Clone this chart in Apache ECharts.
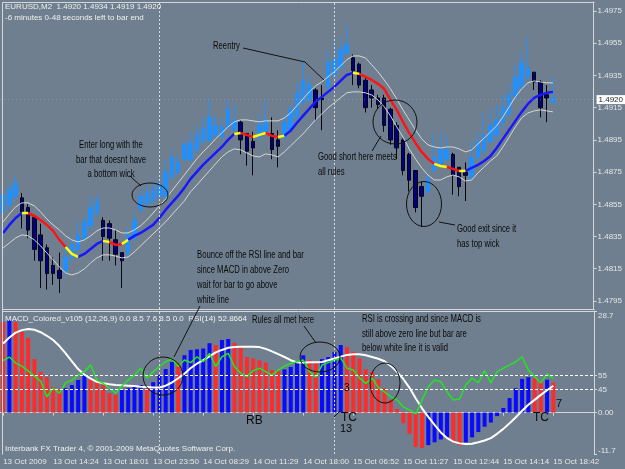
<!DOCTYPE html>
<html><head><meta charset="utf-8">
<script src="https://cdn.jsdelivr.net/npm/echarts@6/dist/echarts.min.js"></script>
<style>html,body{margin:0;padding:0;background:#6f7f8f}#c{width:625px;height:469px}</style>
</head><body><div id="c"></div>
<script>
// ---------- data ----------
const timeLabels = ['13 Oct 2009','13 Oct 14:24','13 Oct 18:01','13 Oct 23:50','14 Oct 08:29','14 Oct 11:29','14 Oct 18:00','15 Oct 06:52','15 Oct 11:27','15 Oct 12:44','15 Oct 14:14','15 Oct 18:42'];
const priceTicks = [1.4795,1.4815,1.4835,1.4855,1.4875,1.4895,1.4915,1.4935,1.4955,1.4975];
const macdTicks = [-11.7, 0, 28.7];
const rsiTicks = [45, 55];
const separators = ['25','53'];
const lastPrice = 1.4920;

const opens = [1.4850,1.4855,1.4860,1.4859,1.4853,1.4847,1.4836,1.4828,1.4817,1.4814,
1.4814,1.4822,1.4827,1.4834,1.4842,1.4850,1.4845,1.4843,1.4833,1.4825,
1.4825,1.4834,1.4852,1.4855,1.4857,1.4860,1.4860,1.4872,1.4875,1.4883,
1.4883,1.4889,1.4894,1.4895,1.4898,1.4897,1.4903,1.4901,1.4906,1.4899,
1.4894,1.4897,1.4900,1.4899,1.4895,1.4897,1.4901,1.4909,1.4918,1.4920,
1.4926,1.4921,1.4928,1.4935,1.4940,1.4949,1.4946,1.4942,1.4932,1.4926,
1.4921,1.4921,1.4914,1.4904,1.4895,1.4886,1.4876,1.4866,1.4863,1.4876,
1.4880,1.4883,1.4886,1.4878,1.4875,1.4872,1.4884,1.4888,1.4894,1.4898,
1.4906,1.4911,1.4922,1.4928,1.4934,1.4937,1.4931,1.4923,1.4918];
const closes = [1.4861,1.4864,1.4868,1.4850,1.4839,1.4827,1.4820,1.4812,1.4812,1.4809,
1.4822,1.4830,1.4836,1.4844,1.4853,1.4857,1.4835,1.4834,1.4824,1.4820,
1.4836,1.4845,1.4860,1.4862,1.4864,1.4867,1.4875,1.4884,1.4881,1.4892,
1.4893,1.4898,1.4902,1.4909,1.4904,1.4903,1.4914,1.4907,1.4895,1.4888,
1.4890,1.4904,1.4907,1.4889,1.4891,1.4906,1.4914,1.4924,1.4932,1.4929,
1.4915,1.4920,1.4943,1.4945,1.4951,1.4954,1.4938,1.4929,1.4915,1.4921,
1.4917,1.4904,1.4895,1.4890,1.4876,1.4870,1.4853,1.4860,1.4871,1.4884,
1.4889,1.4889,1.4873,1.4866,1.4873,1.4884,1.4894,1.4898,1.4904,1.4907,
1.4915,1.4923,1.4934,1.4943,1.4940,1.4931,1.4915,1.4921,1.4921];
const lows = [1.4848,1.4852,1.4858,1.4840,1.4834,1.4820,1.4803,1.4802,1.4805,1.4800,
1.4811,1.4819,1.4824,1.4832,1.4839,1.4847,1.4820,1.4820,1.4817,1.4803,
1.4822,1.4832,1.4850,1.4853,1.4855,1.4858,1.4858,1.4870,1.4873,1.4881,
1.4881,1.4887,1.4892,1.4893,1.4896,1.4895,1.4901,1.4901,1.4886,1.4879,
1.4873,1.4895,1.4899,1.4883,1.4878,1.4895,1.4900,1.4907,1.4916,1.4918,
1.4907,1.4901,1.4926,1.4934,1.4938,1.4947,1.4929,1.4927,1.4912,1.4915,
1.4914,1.4900,1.4892,1.4883,1.4873,1.4863,1.4850,1.4841,1.4861,1.4875,
1.4878,1.4881,1.4861,1.4860,1.4857,1.4870,1.4883,1.4886,1.4892,1.4896,
1.4902,1.4909,1.4920,1.4926,1.4932,1.4926,1.4909,1.4906,1.4917];
const highs = [1.4865,1.4868,1.4873,1.4862,1.4855,1.4848,1.4843,1.4830,1.4822,1.4825,
1.4830,1.4834,1.4844,1.4848,1.4860,1.4861,1.4847,1.4845,1.4839,1.4825,
1.4840,1.4850,1.4864,1.4867,1.4870,1.4871,1.4883,1.4889,1.4886,1.4896,
1.4900,1.4904,1.4909,1.4920,1.4911,1.4909,1.4920,1.4917,1.4907,1.4899,
1.4900,1.4911,1.4920,1.4909,1.4901,1.4911,1.4917,1.4930,1.4943,1.4935,
1.4927,1.4929,1.4951,1.4957,1.4958,1.4966,1.4948,1.4943,1.4934,1.4929,
1.4923,1.4923,1.4915,1.4906,1.4896,1.4887,1.4876,1.4869,1.4873,1.4898,
1.4900,1.4897,1.4887,1.4878,1.4881,1.4894,1.4900,1.4912,1.4915,1.4917,
1.4923,1.4929,1.4942,1.4950,1.4959,1.4937,1.4932,1.4929,1.4934];

const trendCenter = [1.48372,1.48422,1.48465,1.48496,1.48496,1.48478,1.48453,1.48422,1.48385,1.48329,
1.48285,1.48242,1.48223,1.48242,1.48273,1.48304,1.48323,1.48316,1.48298,1.48304,
1.48329,1.48354,1.48372,1.48397,1.48422,1.48465,1.48515,1.48559,1.48602,1.48652,
1.48708,1.48751,1.48795,1.48832,1.48869,1.48906,1.48950,1.48987,1.48993,1.48981,
1.48968,1.48981,1.48993,1.48975,1.48968,1.48975,1.49006,1.49055,1.49099,1.49142,
1.49186,1.49217,1.49248,1.49279,1.49316,1.49353,1.49366,1.49360,1.49341,1.49322,
1.49298,1.49267,1.49198,1.49136,1.49062,1.48993,1.48931,1.48875,1.48832,1.48801,
1.48788,1.48782,1.48770,1.48757,1.48757,1.48776,1.48795,1.48819,1.48850,1.48900,
1.48956,1.49012,1.49068,1.49124,1.49173,1.49211,1.49229,1.49242,1.49248];
const trendColor = ('BBBB'+'Y'+'RRRRRR'+'YY'+'BBBB'+'Y'+'RR'+'Y'+'BBBBBBBBBBBBBBBBB'+'Y'+'RR'+'YY'+'RR'+'Y'+
  'BBBBBBBBBBB'+'Y'+'RRRRRRRRRRRR'+'YY'+'RR'+'Y'+'BBBBBBBBBBBBBB').split('');
const upperBand = [1.48441,1.48490,1.48534,1.48559,1.48559,1.48540,1.48503,1.48459,1.48422,1.48391,
1.48354,1.48329,1.48316,1.48329,1.48354,1.48385,1.48403,1.48403,1.48391,1.48372,
1.48372,1.48391,1.48416,1.48453,1.48496,1.48540,1.48583,1.48633,1.48683,1.48732,
1.48782,1.48832,1.48875,1.48913,1.48956,1.48993,1.49031,1.49062,1.49074,1.49074,
1.49068,1.49062,1.49068,1.49068,1.49068,1.49086,1.49117,1.49161,1.49204,1.49248,
1.49285,1.49310,1.49341,1.49372,1.49409,1.49447,1.49471,1.49471,1.49459,1.49416,
1.49372,1.49322,1.49267,1.49204,1.49136,1.49074,1.49012,1.48956,1.48919,1.48906,
1.48900,1.48906,1.48906,1.48894,1.48875,1.48888,1.48925,1.48962,1.48999,1.49037,
1.49093,1.49155,1.49217,1.49267,1.49304,1.49316,1.49310,1.49304,1.49304];
const lowerBand = [1.48279,1.48310,1.48341,1.48360,1.48354,1.48329,1.48292,1.48248,1.48205,1.48161,
1.48124,1.48111,1.48124,1.48149,1.48186,1.48217,1.48236,1.48236,1.48229,1.48217,
1.48223,1.48254,1.48292,1.48329,1.48366,1.48403,1.48441,1.48484,1.48528,1.48571,
1.48627,1.48670,1.48714,1.48757,1.48801,1.48844,1.48875,1.48894,1.48888,1.48869,
1.48850,1.48844,1.48863,1.48857,1.48844,1.48875,1.48913,1.48950,1.48987,1.49031,
1.49074,1.49111,1.49149,1.49180,1.49211,1.49242,1.49248,1.49248,1.49242,1.49229,
1.49198,1.49155,1.49099,1.49031,1.48968,1.48894,1.48832,1.48776,1.48732,1.48701,
1.48701,1.48720,1.48732,1.48720,1.48695,1.48701,1.48745,1.48782,1.48819,1.48850,
1.48906,1.48968,1.49031,1.49086,1.49117,1.49130,1.49136,1.49130,1.49124];

const macdHist = [25.6,26.1,25.6,22.8,21.1,15.1,11.5,10.0,7.2,6.6,
6.9,7.8,9.2,10.9,9.7,9.2,7.8,5.5,5.0,6.4,
6.9,7.3,7.8,7.0,8.6,10.6,12.3,14.3,14.0,16.2,
17.7,17.9,18.1,19.6,19.1,20.5,20.8,19.7,18.5,15.7,
15.3,14.8,14.1,12.0,11.8,12.2,12.9,14.4,16.2,14.8,
14.3,15.1,15.7,17.1,19.1,18.5,17.1,15.3,12.2,11.5,
9.4,6.9,3.6,1.0,-3.0,-6.0,-9.7,-10.0,-9.2,-8.4,
-7.6,-7.0,-8.4,-9.2,-8.4,-7.0,-5.5,-4.0,-2.8,-1.0,
1.3,4.1,6.9,9.5,10.0,9.7,9.0,9.3,8.5];
const macdColor = ('RBRRRRRRRR'+'BBBBRRRRRB'+'BBBRBBBBRB'+'BBBBRBBRRR'+'RRRRRBBBBR'+
  'RBBBBRRRRR'+'RRRRRRRRBB'+'BBRRBBBBBB'+'BBBBBRRBR').split('');
const macdSignal = [19.5,21.2,22.6,23.3,23.6,23.4,22.7,21.7,20.5,18.8,
16.7,14.5,12.3,10.7,9.6,8.7,8.3,8.0,7.8,7.7,
7.6,7.5,7.3,7.2,7.1,7.1,7.6,8.5,9.7,11.0,
12.6,13.8,14.8,15.9,17.0,17.7,18.3,18.5,18.6,18.6,
18.6,18.5,18.0,17.3,16.5,15.7,14.8,14.2,14.1,14.2,
14.2,14.3,14.8,15.3,15.8,16.3,16.5,16.5,16.2,15.7,
15.2,14.5,13.2,11.5,9.5,7.0,4.0,1.2,-1.2,-3.5,
-5.6,-7.2,-8.2,-8.7,-8.9,-8.8,-8.4,-7.9,-7.2,-6.0,
-4.6,-3.0,-1.3,0.5,2.2,3.6,5.0,6.3,7.6];
const rsi = [65.3,67.8,63.6,61.5,58.1,54.5,51.0,40.0,46.0,42.6,
49.7,51.7,55.2,57.6,62.2,51.7,49.4,46.0,42.6,47.6,
51.7,55.2,60.0,53.1,57.6,61.2,64.5,66.4,61.2,65.7,
63.9,68.0,64.5,70.4,61.2,68.0,70.4,61.2,56.4,54.1,
58.3,60.0,57.6,55.2,58.7,61.5,63.3,64.5,65.7,57.6,
53.8,62.2,63.9,65.7,67.0,60.0,58.7,53.1,49.4,53.1,
46.6,43.5,40.0,37.8,33.0,30.8,28.0,37.8,47.0,51.7,
50.5,43.5,37.8,38.5,48.3,53.1,49.7,58.3,49.7,57.6,
60.0,62.2,64.5,68.0,58.7,54.1,49.7,56.0,52.8664];

// ---------- build ----------
const NCAT = 95;
const categories = Array.from({length: NCAT}, (_, i) => String(i));
const candleData = opens.map((o, i) => [o, closes[i], lows[i], highs[i]]);
function seg(c) {
  return trendCenter.map((v, j) => (trendColor[j] === c || trendColor[j + 1] === c) ? v : null);
}
const COLORS = {B: '#1818ff', R: '#ff1414', Y: '#ffff00'};
const macdData = macdHist.map((v, i) => ({value: v, itemStyle: {color: macdColor[i] === 'R' ? '#ff2b2b' : '#0a0aff'}}));

const AX = '#e6e6e6';
const FR = '#d4d8dc';
const FONT = 'Liberation Sans';

function note(text, x, y, align, size, sx) {
  return {type: 'text', x: x, y: y, z: 100, scaleX: sx || 0.7,
    style: {text: text, fill: '#0a0a0a', font: (size || 11) + 'px "' + FONT + '"', align: align || 'left', verticalAlign: 'middle'}};
}
function info(text, x, y) {
  return {type: 'text', x: x, y: y, z: 100,
    style: {text: text, fill: '#f0f0f0', font: '8px "' + FONT + '"', align: 'left', verticalAlign: 'middle'}};
}
function ring(cx, cy, rx, ry) {
  return {type: 'ellipse', z: 100, shape: {cx, cy, rx, ry}, style: {stroke: '#111', fill: 'none', lineWidth: 1}};
}
function pl(points) {
  return {type: 'polyline', z: 100, shape: {points}, style: {stroke: '#111', fill: 'none', lineWidth: 1}};
}
function fl(x1, y1, x2, y2) {
  return {type: 'line', z: 50, shape: {x1, y1, x2, y2}, style: {stroke: FR, lineWidth: 1}};
}

const option = {
  animation: false,
  backgroundColor: '#6f7f8f',
  textStyle: {fontFamily: FONT},
  grid: [
    {left: 0, right: 31, top: 2, height: 307},
    {left: 0, right: 31, top: 311, height: 143}
  ],
  xAxis: [
    {type: 'category', gridIndex: 0, data: categories, boundaryGap: true, show: false},
    {type: 'category', gridIndex: 1, data: categories, boundaryGap: true,
      axisLine: {show: true, lineStyle: {color: FR}},
      axisTick: {show: true, interval: 7, alignWithLabel: true, length: 3, lineStyle: {color: FR}},
      axisLabel: {interval: 7, align: 'left', color: AX, fontSize: 8, margin: 4,
        formatter: (v, i) => timeLabels[Math.round(i / 8)] || ''},
      splitLine: {show: false}}
  ],
  yAxis: [
    {type: 'value', gridIndex: 0, position: 'right', min: 1.47900, max: 1.49806, scale: true,
      axisLine: {show: true, lineStyle: {color: FR}},
      axisTick: {show: true, length: 3, customValues: priceTicks, lineStyle: {color: FR}},
      axisLabel: {color: AX, fontSize: 8, margin: 4, customValues: priceTicks, formatter: v => v.toFixed(4)},
      splitLine: {show: false}},
    {type: 'value', gridIndex: 1, position: 'right', min: -11.7, max: 28.7,
      axisLine: {show: true, lineStyle: {color: FR}},
      axisTick: {show: true, length: 3, customValues: macdTicks, lineStyle: {color: FR}},
      axisLabel: {color: AX, fontSize: 8, margin: 4, customValues: macdTicks,
        formatter: v => Math.abs(v - 28.7) < 1e-6 ? '{t|28.7}' : (Math.abs(v + 11.7) < 1e-6 ? '{b|-11.7}' : '0.00'),
        rich: {t: {padding: [9, 0, 0, 0], fontSize: 8, color: AX}, b: {padding: [0, 0, 7, 0], fontSize: 8, color: AX}}},
      splitLine: {show: false}},
    {type: 'value', gridIndex: 1, position: 'right', min: 0, max: 100,
      axisLine: {show: false},
      axisTick: {show: true, length: 3, customValues: rsiTicks, lineStyle: {color: FR}},
      axisLabel: {color: AX, fontSize: 8, margin: 4, customValues: rsiTicks, formatter: v => String(v)},
      splitLine: {show: false}}
  ],
  series: [
    {type: 'candlestick', xAxisIndex: 0, yAxisIndex: 0, data: candleData, barWidth: 4,
      itemStyle: {color: '#1e90ff', color0: '#000080', borderColor: '#1e90ff', borderColor0: '#050510', borderWidth: 1},
      markLine: {silent: true, symbol: ['none', 'none'], label: {show: false},
        lineStyle: {color: '#d8d8d8', type: [2, 2], width: 1},
        data: separators.map(s => ({xAxis: s}))}},
    {type: 'line', xAxisIndex: 0, yAxisIndex: 0, data: upperBand, showSymbol: false, lineStyle: {color: '#d6d6d6', width: 1},
      markLine: {silent: true, symbol: ['none', 'none'], precision: 4,
        lineStyle: {color: 'rgba(200,200,200,0.35)', type: [1, 3], width: 1},
        label: {show: true, position: 'end', distance: 3, formatter: lastPrice.toFixed(4), color: '#222',
          backgroundColor: '#ffffff', padding: [1, 2, 0, 2], fontSize: 8},
        data: [{yAxis: lastPrice}]}},
    {type: 'line', xAxisIndex: 0, yAxisIndex: 0, data: lowerBand, showSymbol: false, lineStyle: {color: '#d6d6d6', width: 1}},
    {type: 'line', xAxisIndex: 0, yAxisIndex: 0, data: seg('B'), showSymbol: false, lineStyle: {color: COLORS.B, width: 2.5}},
    {type: 'line', xAxisIndex: 0, yAxisIndex: 0, data: seg('R'), showSymbol: false, lineStyle: {color: COLORS.R, width: 2.5}},
    {type: 'line', xAxisIndex: 0, yAxisIndex: 0, data: seg('Y'), showSymbol: false, lineStyle: {color: COLORS.Y, width: 2.5}},
    {type: 'bar', xAxisIndex: 1, yAxisIndex: 1, data: macdData, barWidth: 4,
      markLine: {silent: true, symbol: ['none', 'none'], label: {show: false},
        lineStyle: {color: '#d8d8d8', type: [2, 2], width: 1},
        data: separators.map(s => ({xAxis: s}))}},
    {type: 'line', xAxisIndex: 1, yAxisIndex: 1, data: macdSignal, showSymbol: false, lineStyle: {color: '#ffffff', width: 2}},
    {type: 'line', xAxisIndex: 1, yAxisIndex: 2, data: rsi, showSymbol: false, lineStyle: {color: '#22e622', width: 1.5},
      markLine: {silent: true, symbol: ['none', 'none'], label: {show: false},
        lineStyle: {color: '#ffffff', type: [3, 2], width: 1},
        data: rsiTicks.map(v => ({yAxis: v}))}}
  ],
  graphic: [
    fl(2.5, 2.5, 594.5, 2.5), fl(2.5, 2.5, 2.5, 454.5), fl(2.5, 309.5, 594.5, 309.5), fl(2.5, 311.5, 594.5, 311.5),
    info('EURUSD,M2  1.4920 1.4934 1.4919 1.4920', 5, 7),
    info('-6 minutes 0-48 seconds left to bar end', 5, 18),
    info('MACD_Colored_v105 (12,26,9) 0.0 8.5 7.6 8.5 0.0  RSI(14) 52.8664', 5, 319),
    info('Interbank FX Trader 4, \u00a9 2001-2009 MetaQuotes Software Corp.', 5, 449),
    note('Reentry', 213, 46),
    note('Enter long with the', 111, 145, 'center'),
    note('bar that doesnt have', 111, 160, 'center'),
    note('a bottom wick', 111, 174, 'center'),
    note('Good short here meets', 318, 157),
    note('all rules', 318, 172),
    note('Good exit since it', 457, 229),
    note('has top wick', 457, 244),
    note('Bounce off the RSI line and bar', 197, 255),
    note('since MACD in above Zero', 197, 270),
    note('wait for bar to go above', 197, 285),
    note('white line', 197, 300),
    note('Rules all met here', 252, 320),
    note('RSI is crossing and since MACD is', 362, 319),
    note('still above zero line but bar are', 362, 334),
    note('below white line it is valid', 362, 348),
    note('RB', 246, 421, 'left', 12, 1),
    note('TC', 341, 418, 'left', 12, 1),
    note('13', 340, 429, 'left', 11, 1),
    note('3', 344, 388, 'left', 10, 1),
    note('TC', 533, 418, 'left', 12, 1),
    note('7', 556, 404, 'left', 11, 1),
    ring(150, 195, 18, 12), ring(395, 122, 22, 22), ring(424, 204, 17.5, 22.5),
    ring(163, 376, 20, 19), ring(320, 357, 20, 15), ring(385, 383, 15, 20),
    pl([[243, 48], [305, 62], [324, 80]]),
    pl([[130, 176], [141, 186]]),
    pl([[372, 151], [381, 136]]),
    pl([[439, 222], [455, 225]]),
    pl([[200, 306], [174, 357]]),
    pl([[304, 326], [316, 343]]),
    pl([[334, 417], [340, 411]])
  ]
};
const chart = echarts.init(document.getElementById('c'));
chart.setOption(option);
</script>
</body></html>
